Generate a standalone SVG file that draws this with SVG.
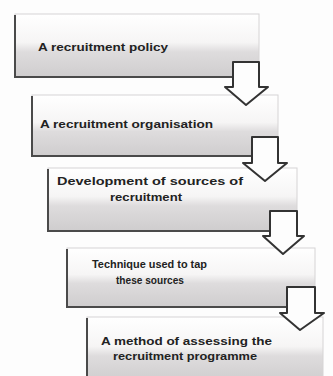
<svg xmlns="http://www.w3.org/2000/svg" width="333" height="376" viewBox="0 0 333 376">
<defs>
<linearGradient id="g" x1="0" y1="0" x2="0" y2="1">
<stop offset="0" stop-color="#ffffff"/>
<stop offset="0.45" stop-color="#f6f5f5"/>
<stop offset="0.6" stop-color="#dedcdd"/>
<stop offset="1" stop-color="#cfcdce"/>
</linearGradient>
</defs>
<style>
.box{fill:url(#g);stroke:#d6d4d5;stroke-width:1}
.edge{fill:none;stroke:#4a4a4a;stroke-width:2}
.t{font-family:"Liberation Sans",Arial,sans-serif;font-size:10px;font-weight:bold;fill:#222}
.arr{fill:#fdfdfd;stroke:#333;stroke-width:2;stroke-linejoin:round}
</style>
<rect width="333" height="376" fill="#fdfdfd"/>
<g id="n1">
<rect class="box" x="15" y="14" width="244" height="63"/>
<path class="edge" d="M15,15 V77 H233"/>
<text class="t" x="38" y="51" textLength="130" lengthAdjust="spacingAndGlyphs">A recruitment policy</text>
</g>
<g id="n2">
<rect class="box" x="32" y="95" width="246" height="61"/>
<path class="edge" d="M32,96 V156 H252"/>
<text class="t" x="40" y="128" textLength="173" lengthAdjust="spacingAndGlyphs">A recruitment organisation</text>
</g>
<g id="n3">
<rect class="box" x="48" y="168" width="249" height="63"/>
<path class="edge" d="M48,169 V231 H270"/>
<text class="t" x="57" y="185" textLength="186" lengthAdjust="spacingAndGlyphs">Development of sources of</text>
<text class="t" x="110" y="201" textLength="72" lengthAdjust="spacingAndGlyphs">recruitment</text>
</g>
<g id="n4">
<rect class="box" x="67" y="248" width="248" height="59"/>
<path class="edge" d="M67,249 V307 H287"/>
<text class="t" x="92" y="268" textLength="115" lengthAdjust="spacingAndGlyphs">Technique used to tap</text>
<text class="t" x="116" y="284" textLength="68" lengthAdjust="spacingAndGlyphs">these sources</text>
</g>
<g id="n5">
<rect class="box" x="87" y="317" width="236" height="65"/>
<path class="edge" d="M87,318 V376"/>
<text class="t" x="101" y="345" textLength="171" lengthAdjust="spacingAndGlyphs">A method of assessing the</text>
<text class="t" x="113" y="360" textLength="144" lengthAdjust="spacingAndGlyphs">recruitment programme</text>
</g>
<g id="connectors">
<path class="arr" d="M233,62 H259 V87 H268 L246,105 L225,87 H233 Z"/>
<path class="arr" d="M252,137 H278 V163 H287 L265,181 L243,163 H252 Z"/>
<path class="arr" d="M270,211 H297 V236 H304 L283,254 L263,236 H270 Z"/>
<path class="arr" d="M287,287 H315 V313 H324 L300,330 L280,313 H287 Z"/>
</g>
</svg>
